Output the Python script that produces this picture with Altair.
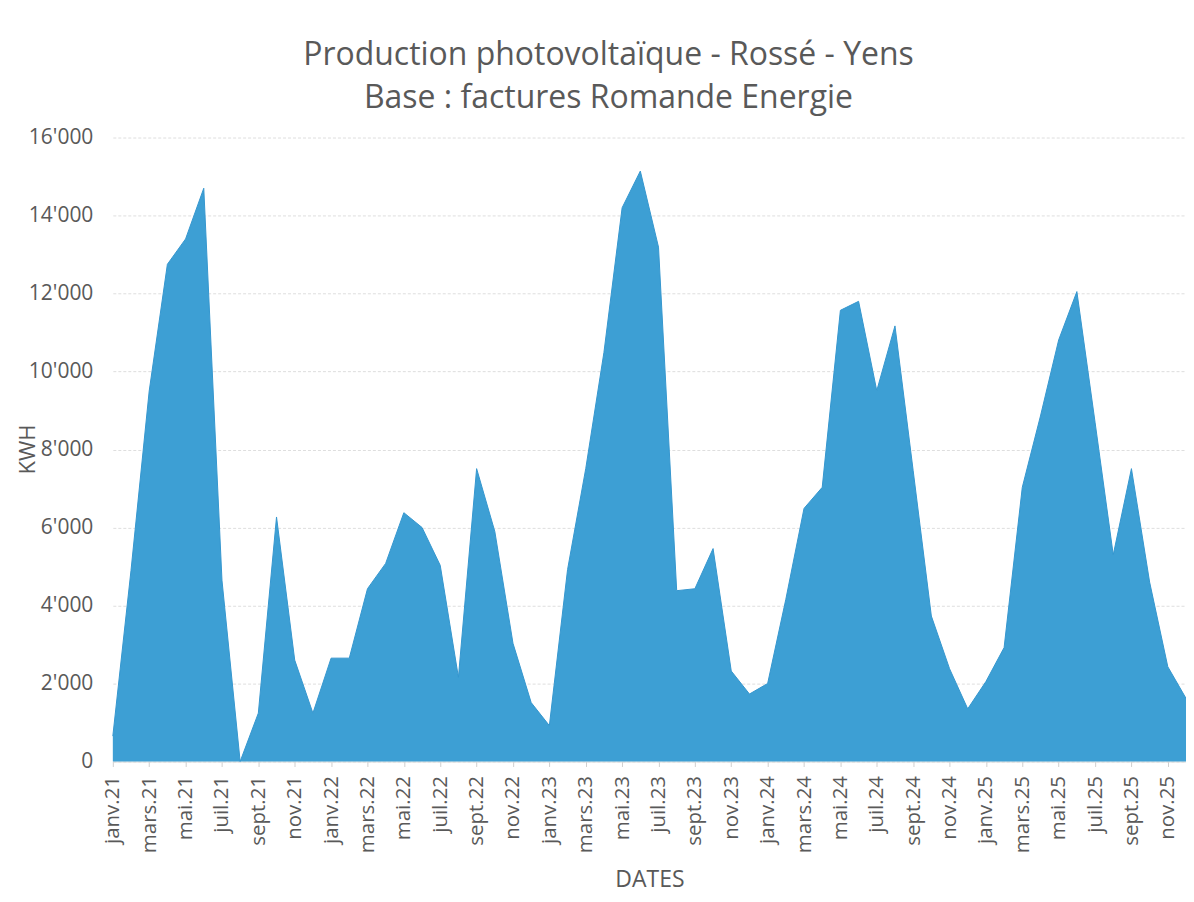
import altair as alt
import pandas as pd

month_names = ["janv", "févr", "mars", "avr", "mai", "juin",
               "juil", "août", "sept", "oct", "nov", "déc"]
years = ["21", "22", "23", "24", "25"]
months = [f"{m}.{y}" for y in years for m in month_names]

kwh = [
    650, 4900, 9500, 12750, 13400, 14700, 4650, 0, 1240, 6270, 2600, 1240,      # 2021
    2650, 2650, 4430, 5080, 6380, 6000, 5030, 2160, 7510, 5900, 3030, 1510,     # 2022
    920, 4920, 7510, 10490, 14200, 15140, 13190, 4380, 4430, 5460, 2320, 1730,  # 2023
    2000, 4160, 6490, 7030, 11570, 11800, 9510, 11170, 7460, 3730, 2380, 1350,  # 2024
    2050, 2920, 7030, 8860, 10810, 12050, 8700, 5300, 7510, 4600, 2430, 1620,   # 2025
]

y_ticks = list(range(0, 16001, 2000))
x_ticks = months[::2]

df = pd.DataFrame({"mois": months, "kwh": kwh})

FONT = "Open Sans"
GREY = "#595959"

chart = alt.Chart(df).mark_area(
    color="#3d9fd4", opacity=1, line={"color": "#3597cf", "strokeWidth": 1}
).encode(
    x=alt.X("mois:O", sort=None,
            scale=alt.Scale(type="point", padding=0),
            axis=alt.Axis(values=x_ticks, labelAngle=-90, title="DATES",
                          labelFontSize=20.5, labelColor=GREY, labelFont=FONT,
                          labelPadding=9,
                          titleFontSize=23, titleColor=GREY, titleFont=FONT,
                          titleFontWeight="normal",
                          titleY=118, titleBaseline="middle",
                          domainColor="#d9d9d9", tickColor="#cfcfcf",
                          tickSize=5, grid=False)),
    y=alt.Y("kwh:Q",
            scale=alt.Scale(domain=[0, 16000], nice=False),
            axis=alt.Axis(values=y_ticks, title="KWH",
                          labelExpr="replace(format(datum.value, ','), ',', \"'\")",
                          labelFontSize=21, labelColor=GREY, labelFont=FONT,
                          labelPadding=20,
                          titleFontSize=22, titleColor=GREY, titleFont=FONT,
                          titleFontWeight="normal",
                          titleX=-85, titleY=312, titleBaseline="middle",
                          titleAlign="center",
                          domain=False, ticks=False,
                          gridColor="#dedede", gridDash=[3, 2])),
).properties(
    width=1075,
    height=625,
    title=alt.TitleParams(
        text=["Production photovoltaïque - Rossé - Yens",
              "Base : factures Romande Energie"],
        anchor="middle", dx=-41, offset=12, lineHeight=43,
        fontSize=32, font=FONT, color=GREY, fontWeight="normal"),
    autosize=alt.AutoSizeParams(type="none"),
    padding={"left": 105, "top": 129, "right": 0, "bottom": 150},
).configure_view(stroke=None)

chart.save("out.html", embed_options={"renderer": "svg", "actions": False})
